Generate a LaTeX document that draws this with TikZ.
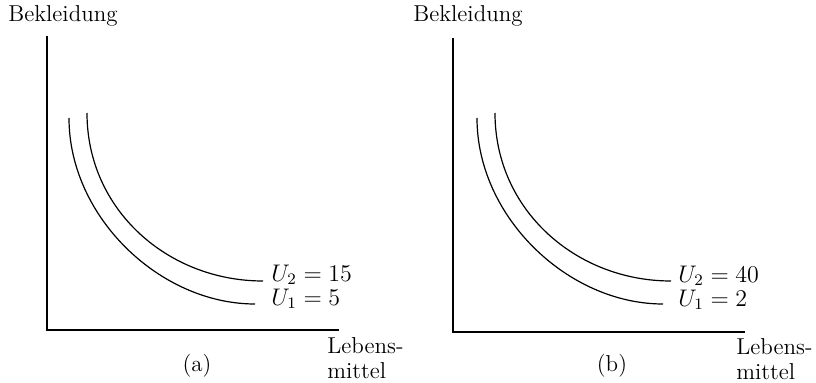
\documentclass[tikz,border=0pt]{standalone}
\usepackage{tikz}

\begin{document}
\begin{tikzpicture}[x=.5pt,y=.5pt,font=\fontsize{11.5}{12.5}\selectfont,
 axis/.style={line width=1.1pt},curve/.style={line width=.6pt},
 lbl/.style={inner sep=0pt}]
\path[use as bounding box] (0,0) rectangle (816,382);
% panel (a)
\node[lbl,anchor=base west] (ylaba) at (8,361) {Bekleidung};
\coordinate (ytopa) at (47,346);\coordinate (oa) at (47,52);\coordinate (xenda) at (339,52);
\draw[axis] (ytopa)--(oa)--(xenda);
\draw[curve] (69,264) .. controls (69,165) and (160,78) .. (255,78);
\draw[curve] (87,269) .. controls (87,172) and (168,101) .. (263,101);
\node[lbl,anchor=base west] (u2a) at (271,101) {$U_2 = 15$};
\node[lbl,anchor=base west] (u1a) at (271,77) {$U_1 = 5$};
\node[lbl,anchor=north west,align=left] (xlaba) at (327,45) {Lebens-\\mittel};
\node[lbl] (capa) at (197,16) {(a)};
% panel (b)
\node[lbl,anchor=base west] (ylabb) at (413,361) {Bekleidung};
\coordinate (ytopb) at (453,344);\coordinate (ob) at (453,50);\coordinate (xendb) at (745,50);
\draw[axis] (ytopb)--(ob)--(xendb);
\draw[curve] (477,264) .. controls (477,165) and (568,78) .. (663,78);
\draw[curve] (495,269) .. controls (495,172) and (576,101) .. (671,101);
\node[lbl,anchor=base west] (u2b) at (678,100) {$U_2 = 40$};
\node[lbl,anchor=base west] (u1b) at (678,76) {$U_1 = 2$};
\node[lbl,anchor=north west,align=left] (xlabb) at (736,44) {Lebens-\\mittel};
\node[lbl] (capb) at (612,16) {(b)};
\end{tikzpicture}
\end{document}
